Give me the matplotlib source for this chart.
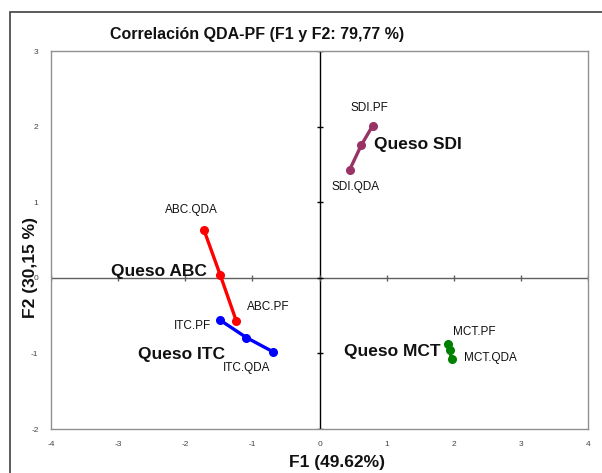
import numpy as np
import matplotlib.pyplot as plt
from matplotlib.patches import Rectangle

plt.rcParams['font.family'] = ['Liberation Sans', 'DejaVu Sans']
plt.rcParams['axes.unicode_minus'] = False

# QDA point, cheese centroid, PF point for each cheese
cheeses = ['ABC', 'ITC', 'SDI', 'MCT']
f1_vals = {'ABC': [-1.72, -1.48, -1.24],
           'ITC': [-0.69, -1.09, -1.48],
           'SDI': [0.45, 0.62, 0.79],
           'MCT': [1.97, 1.94, 1.92]}
f2_vals = {'ABC': [0.63, 0.04, -0.57],
           'ITC': [-0.98, -0.79, -0.56],
           'SDI': [1.43, 1.75, 2.01],
           'MCT': [-1.08, -0.96, -0.87]}
colors = {'ABC': '#ff0000', 'ITC': '#0000ff', 'SDI': '#993366', 'MCT': '#008000'}

# point labels (text, x, y)
point_labels = [('ABC.QDA', -1.91, 0.90), ('ABC.PF', -0.76, -0.38),
                ('ITC.PF', -1.89, -0.64), ('ITC.QDA', -1.09, -1.19),
                ('SDI.PF', 0.75, 2.24), ('SDI.QDA', 0.54, 1.20),
                ('MCT.PF', 2.31, -0.72), ('MCT.QDA', 2.54, -1.06)]
group_labels = [('Queso ABC', -2.39, 0.08), ('Queso ITC', -2.06, -1.02),
                ('Queso SDI', 1.46, 1.76), ('Queso MCT', 1.09, -0.97)]

x_ticks = [-4, -3, -2, -1, 0, 1, 2, 3, 4]
y_ticks = [-2, -1, 0, 1, 2, 3]


def main():
    fig = plt.figure(figsize=(6.02, 4.73), dpi=100)
    fig.patches.append(Rectangle((10 / 602, -0.1), 1.2, 1 - 12 / 473 + 0.1,
                                 transform=fig.transFigure, fill=False,
                                 edgecolor='#404040', linewidth=1.2))
    ax = fig.add_axes([51 / 602, 1 - 429 / 473, 537 / 602, 378 / 473])

    ax.axhline(0, color='#606060', linewidth=1.0, zorder=1)
    ax.axvline(0, color='black', linewidth=1.0, zorder=1)
    ax.plot(x_ticks, np.zeros(len(x_ticks)), linestyle='none', marker='|',
            markersize=5, color='#606060', zorder=1)
    ax.plot(np.zeros(len(y_ticks)), y_ticks, linestyle='none', marker='_',
            markersize=5, color='black', zorder=1)

    for c in cheeses:
        ax.plot(f1_vals[c], f2_vals[c], color=colors[c], linewidth=2.4,
                marker='o', markersize=5.5, zorder=3)

    for txt, x, y in point_labels:
        ax.text(x, y, txt, fontsize=8.5, ha='center', va='center', color='#111111')
    for txt, x, y in group_labels:
        ax.text(x, y, txt, fontsize=12.5, fontweight='bold', ha='center',
                va='center', color='#111111')

    ax.set_xlim(-4, 4)
    ax.set_ylim(-2, 3)
    ax.set_xticks(x_ticks)
    ax.set_yticks(y_ticks)
    ax.tick_params(length=0, labelsize=6, colors='#444444', pad=9)
    for s in ax.spines.values():
        s.set_color('#909090')
        s.set_linewidth(1.0)

    fig.text(257 / 602, 1 - 35 / 473, 'Correlación QDA-PF (F1 y F2: 79,77 %)',
             fontsize=11.5, fontweight='bold', ha='center', va='center', color='#111111')
    fig.text(337 / 602, 1 - 462 / 473, 'F1 (49.62%)', fontsize=12.5,
             fontweight='bold', ha='center', va='center', color='#111111')
    fig.text(31 / 602, 1 - 267 / 473, 'F2 (30,15 %)', fontsize=12.5,
             fontweight='bold', ha='center', va='center', rotation=90, color='#111111')

    fig.savefig('out.png', dpi=100)


if __name__ == '__main__':
    main()
